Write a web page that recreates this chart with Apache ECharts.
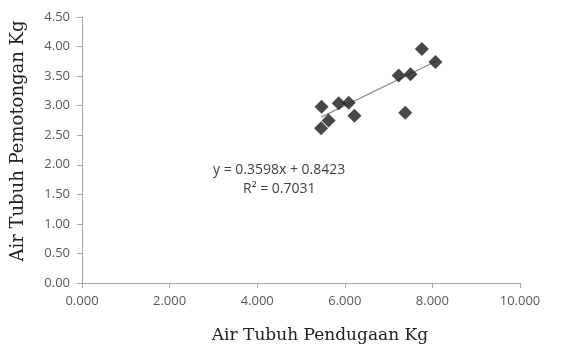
<!DOCTYPE html>
<html><head><meta charset="utf-8">
<script src="https://cdn.jsdelivr.net/npm/echarts@6/dist/echarts.min.js"></script>
<style>html,body{margin:0;padding:0;background:#fff}#c{width:573px;height:349px}</style>
</head><body><div id="c"></div>
<script>
const xValues = [5.47, 5.63, 5.46, 5.86, 6.09, 6.22, 7.23, 7.50, 7.38, 7.76, 8.07];
const yValues = [2.98, 2.75, 2.62, 3.04, 3.05, 2.83, 3.51, 3.53, 2.88, 3.96, 3.74];
const trendSlope = 0.3598;
const trendIntercept = 0.8423;
const equationText = 'y = 0.3598x + 0.8423';
const r2Text = 'R² = 0.7031';
const xName = 'Air Tubuh Pendugaan Kg';
const yName = 'Air Tubuh Pemotongan Kg';

const pts = xValues.map((x, i) => [x, yValues[i]]);
const xmin = Math.min(...xValues), xmax = Math.max(...xValues);
const trend = [[xmin, trendSlope * xmin + trendIntercept], [xmax, trendSlope * xmax + trendIntercept]];

const chart = echarts.init(document.getElementById('c'), null, {renderer: 'canvas'});
const labelFont = {color: '#595959', fontSize: 13, fontFamily: 'Open Sans'};
chart.setOption({
  animation: false,
  grid: {left: 82, right: 53, top: 17, bottom: 66},
  xAxis: {
    type: 'value', min: 0, max: 10, interval: 2,
    axisLine: {show: true, lineStyle: {color: '#a6a6a6'}},
    axisTick: {show: true, length: 5, lineStyle: {color: '#a6a6a6'}},
    splitLine: {show: false},
    axisLabel: Object.assign({formatter: v => v.toFixed(3), margin: 12}, labelFont)
  },
  yAxis: {
    type: 'value', min: 0, max: 4.5, interval: 0.5,
    axisLine: {show: true, lineStyle: {color: '#a6a6a6'}},
    axisTick: {show: true, length: 5, lineStyle: {color: '#a6a6a6'}},
    splitLine: {show: false},
    axisLabel: Object.assign({formatter: v => v.toFixed(2), margin: 12}, labelFont)
  },
  series: [
    {type: 'line', data: trend, symbol: 'none', lineStyle: {color: '#8c8c8c', width: 1.2}, z: 1},
    {type: 'scatter', data: pts, symbol: 'diamond', symbolSize: 14, itemStyle: {color: '#1a1a1a'}, z: 2}
  ],
  graphic: [
    {type: 'text', left: 213, top: 163, style: {text: equationText, fill: '#404040', font: '14px "Open Sans"'}},
    {type: 'text', left: 243, top: 182, style: {text: r2Text, fill: '#404040', font: '14px "Open Sans"'}},
    {type: 'text', x: 320, y: 336, style: {text: xName, fill: '#222', font: '17px "DejaVu Serif"', align: 'center', verticalAlign: 'middle'}},
    {type: 'text', x: 18, y: 141, rotation: Math.PI / 2, style: {text: yName, fill: '#222', font: '18px "DejaVu Serif"', align: 'center', verticalAlign: 'middle'}}
  ]
});
</script></body></html>
